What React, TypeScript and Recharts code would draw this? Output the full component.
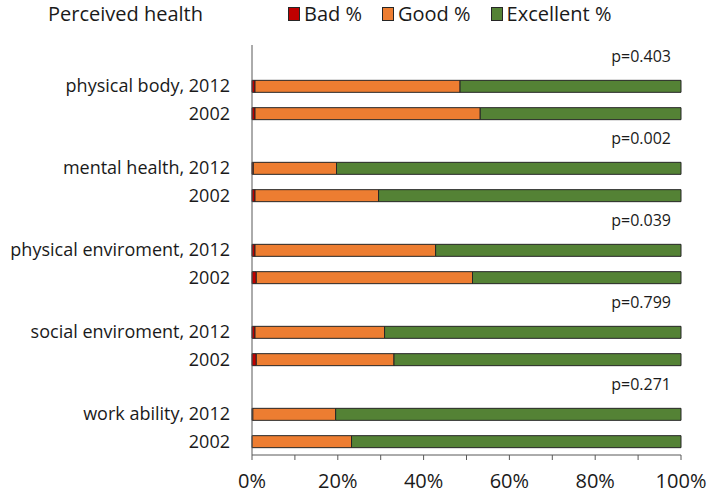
import { Bar, BarChart, Legend, XAxis, YAxis } from 'recharts';

const GROUPS = ['physical body', 'mental health', 'physical enviroment', 'social enviroment', 'work ability'];
const P_VALUES = ['p=0.403', 'p=0.002', 'p=0.039', 'p=0.799', 'p=0.271'];

const BAD_2012 = [0.7, 0.3, 0.7, 0.7, 0.2];
const GOOD_2012 = [47.8, 19.4, 42.1, 30.2, 19.3];
const EXCELLENT_2012 = [51.5, 80.3, 57.2, 69.1, 80.5];

const BAD_2002 = [0.7, 0.7, 1.0, 1.0, 0];
const GOOD_2002 = [52.5, 28.8, 50.4, 32.1, 23.2];
const EXCELLENT_2002 = [46.8, 70.5, 48.6, 66.9, 76.8];

const X_TICKS = [0, 10, 20, 30, 40, 50, 60, 70, 80, 90, 100];

const SERIES = [
  { key: 'bad', name: 'Bad %', color: '#c00000' },
  { key: 'good', name: 'Good %', color: '#ed7d31' },
  { key: 'excellent', name: 'Excellent %', color: '#548235' },
];

const FONT = '"Open Sans", Lato, sans-serif';
const AXIS_COLOR = '#595959';
const TEXT_COLOR = '#1a1a1a';
const LEGEND_HEIGHT = 28;

type Row = {
  id: string;
  label: string;
  p?: string;
  bad?: number;
  good?: number;
  excellent?: number;
};

const rows: Row[] = GROUPS.flatMap((group, i) => [
  { id: `p${i}`, label: '', p: P_VALUES[i] },
  { id: `a${i}`, label: `${group}, 2012`, bad: BAD_2012[i], good: GOOD_2012[i], excellent: EXCELLENT_2012[i] },
  { id: `b${i}`, label: '2002', bad: BAD_2002[i], good: GOOD_2002[i], excellent: EXCELLENT_2002[i] },
]);

const labelById: Record<string, string> = Object.fromEntries(rows.map((r) => [r.id, r.label]));
const pById: Record<string, string> = Object.fromEntries(rows.map((r) => [r.id, r.p ?? '']));

function LegendContent() {
  return (
    <div style={{ position: 'relative', height: LEGEND_HEIGHT, fontFamily: FONT, fontSize: 20, color: TEXT_COLOR }}>
      <span style={{ position: 'absolute', left: 48, top: 0 }}>Perceived health</span>
      <div style={{ position: 'absolute', left: 288, top: 0, display: 'flex', gap: 20 }}>
        {SERIES.map((s) => (
          <span key={s.key} style={{ display: 'flex', alignItems: 'center' }}>
            <span
              style={{
                display: 'inline-block',
                width: 10,
                height: 12,
                background: s.color,
                border: '1px solid #262626',
                marginRight: 4,
              }}
            />
            {s.name}
          </span>
        ))}
      </div>
    </div>
  );
}

function PTick(props: any) {
  const { x, y, payload } = props;
  const text = pById[payload.value];
  if (!text) return null;
  return (
    <text x={x} y={y} dy={3} textAnchor="end" fontFamily={FONT} fontSize={16} fill={TEXT_COLOR}>
      {text}
    </text>
  );
}

export default function App() {
  return (
    <div style={{ position: 'absolute', left: 0, top: 0, width: 709, height: 494, background: '#fff' }}>
      <BarChart
        width={709}
        height={494}
        data={rows}
        layout="vertical"
        margin={{ top: 45 - LEGEND_HEIGHT, right: 28, bottom: 0, left: 0 }}
        barSize={12}
      >
        <XAxis
          type="number"
          domain={[0, 100]}
          ticks={X_TICKS}
          tickFormatter={(v) => (v % 20 === 0 ? `${v}%` : '')}
          height={39}
          stroke={AXIS_COLOR}
          tickSize={5}
          tickMargin={14}
          tick={{ fontFamily: FONT, fontSize: 20, fill: TEXT_COLOR }}
        />
        <YAxis
          type="category"
          dataKey="id"
          width={252}
          stroke={AXIS_COLOR}
          tickLine={false}
          tickMargin={16}
          tickFormatter={(id) => labelById[id]}
          tick={{ fontFamily: FONT, fontSize: 18, fill: TEXT_COLOR }}
          interval={0}
        />
        <YAxis
          yAxisId="p"
          type="category"
          dataKey="id"
          orientation="right"
          mirror
          axisLine={false}
          tickLine={false}
          tickMargin={4}
          interval={0}
          tick={<PTick />}
        />
        <Legend verticalAlign="top" align="left" content={<LegendContent />} wrapperStyle={{ top: 0, left: 0, width: 709 }} />
        {SERIES.map((s) => (
          <Bar
            key={s.key}
            dataKey={s.key}
            name={s.name}
            stackId="health"
            fill={s.color}
            stroke="#262626"
            strokeWidth={1}
            isAnimationActive={false}
          />
        ))}
      </BarChart>
    </div>
  );
}
